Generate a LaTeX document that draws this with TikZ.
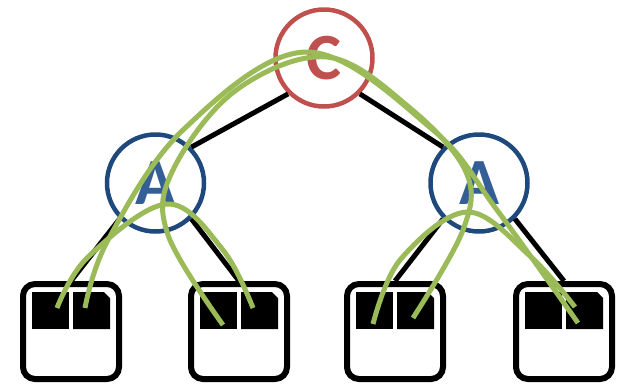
\documentclass[tikz,border=0pt]{standalone}
\usepackage{fontspec}
\newfontfamily\carl{Carlito}
\usetikzlibrary{calc}
\definecolor{cred}{HTML}{C0504D}
\definecolor{cblue}{HTML}{1F497D}
\definecolor{ablue}{HTML}{345F96}
\definecolor{cgreen}{HTML}{9BBB59}
\begin{document}
\begin{tikzpicture}[x=1pt,y=-1pt,
  hub/.style={circle, draw, line width=4.5pt, minimum size=97pt, inner sep=0pt,
    font=\carl\bfseries\fontsize{66}{66}\selectfont},
  cnode/.style={hub, draw=cred, text=cred},
  anode/.style={hub, draw=cblue, text=ablue},
  chip/.style={draw=black, line width=6pt, rounded corners=12pt, minimum width=96pt,
    minimum height=95pt, inner sep=0pt, fill=white},
  edge/.style={line width=5pt},
  wire/.style={draw=cgreen, line width=5pt},
]
\useasboundingbox (0,0) rectangle (623,384);
\node[cnode] (C) at (324,58) {C};
\node[anode] (AL) at (155.5,183) {A};
\node[anode] (AR) at (479,183) {A};
\foreach \n/\x in {b1/71,b2/239,b3/395,b4/564}
  \node[chip] (\n) at (\x,331.5) {};
% tree edges
\draw[edge] (C.south west) -- (AL.north east);
\draw[edge] (C.south east) -- (AR.north west);
\draw[edge] (AL.south west) -- (b1.north);
\draw[edge] (AL.south east) -- (b2.north);
\draw[edge] (AR.south west) -- (b3.north);
\draw[edge] (AR.south east) -- (b4.north);
% chips
\foreach \n in {b1,b2,b3,b4}{
  \fill ($(\n.center)+(-39,-39.5)$) rectangle ($(\n.center)+(-2,-2.5)$);
  \fill ($(\n.center)+(2,-39.5)$) -- ($(\n.center)+(33,-39.5)$) -- ($(\n.center)+(39,-33.5)$)
     -- ($(\n.center)+(39,-2.5)$) -- ($(\n.center)+(2,-2.5)$) -- cycle;
}
% wire end points
\coordinate (e1l) at (57,308);
\coordinate (e1r) at (85,308);
\coordinate (e2l) at (223,325);
\coordinate (e2r) at (253,308);
\coordinate (e3l) at (373,324);
\coordinate (e3r) at (413,318);
\coordinate (e4a) at (575,307);
\coordinate (e4b) at (578,323);
% green wires
\draw[wire] plot[smooth, tension=0.6] coordinates {(e1l) (88,257) (167,204) (223,250) (e2r)};
\draw[wire] plot[smooth, tension=0.6] coordinates {(e3l) (400,260) (467,212) (530,256) (e4a)};
\draw[wire] plot[smooth, tension=0.6] coordinates {(e1r) (108,240) (183,130) (307,52) (433,130) (497,210) (e4b)};
\draw[wire] plot[smooth, tension=0.6] coordinates {(e2l) (168,235) (172,172) (235,91) (327,57) (410,108) (466,172) (463,230) (e3r)};
\end{tikzpicture}
\end{document}
